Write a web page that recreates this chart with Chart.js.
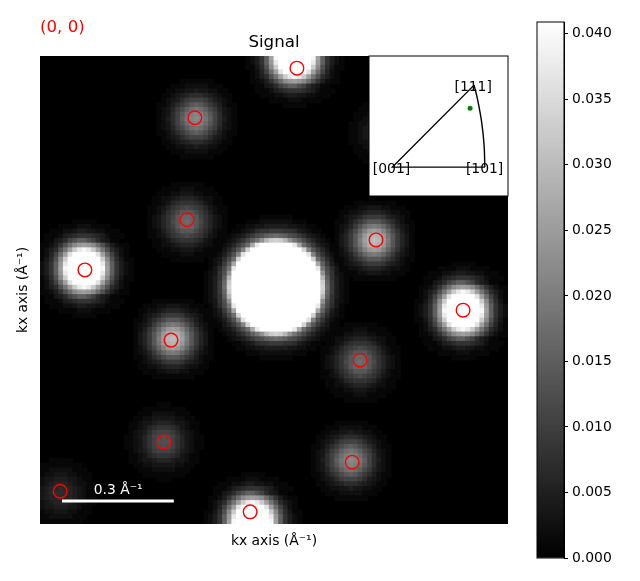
<!DOCTYPE html>
<html>
<head>
<meta charset="utf-8">
<style>
  html, body { margin: 0; padding: 0; background: #fff; }
  canvas { position: absolute; }
</style>
<script src="https://cdn.jsdelivr.net/npm/chart.js@4"></script>
</head>
<body>
<canvas id="signal" width="640" height="581" style="left:0;top:0"></canvas>
<canvas id="ipf" width="141" height="142" style="left:368px;top:55px"></canvas>
<canvas id="colorbar" width="104" height="559" style="left:536px;top:11px"></canvas>
<script>
// brightness, one character per pixel of the 100x100 image
// 0-9 then a-z, so 0 is black and z is white (base 36)
const coreSpot = [
  "0000000000001111111000000000000",
  "0000000001112222222111000000000",
  "0000000112233444443322110000000",
  "0000001123467788877643211000000",
  "00000123468abdefedba86432100000",
  "000012357adgkpstspkgda753210000",
  "00012358bfnwzzzzzzzwnfb85321000",
  "0011358citzzzzzzzzzzztic8531100",
  "001247bivzzzzzzzzzzzzzvib742100",
  "01236aftzzzzzzzzzzzzzzztfa63210",
  "01248dnzzzzzzzzzzzzzzzzznd84210",
  "0136agwzzzzzzzzzzzzzzzzzwga6310",
  "1237bkzzzzzzzzzzzzzzzzzzzkb7321",
  "1247dpzzzzzzzzzzzzzzzzzzzpd7421",
  "1248eszzzzzzzzzzzzzzzzzzzse8421",
  "1248ftzzzzzzzzzzzzzzzzzzztf8421",
  "1248eszzzzzzzzzzzzzzzzzzzse8421",
  "1247dpzzzzzzzzzzzzzzzzzzzpd7421",
  "1237bkzzzzzzzzzzzzzzzzzzzkb7321",
  "0136agwzzzzzzzzzzzzzzzzzwga6310",
  "01248dnzzzzzzzzzzzzzzzzznd84210",
  "01236aftzzzzzzzzzzzzzzztfa63210",
  "001247bivzzzzzzzzzzzzzvib742100",
  "0011358citzzzzzzzzzzztic8531100",
  "00012358bfnwzzzzzzzwnfb85321000",
  "000012357adgkpstspkgda753210000",
  "00000123468abdefedba86432100000",
  "0000001123467788877643211000000",
  "0000000112233444443322110000000",
  "0000000001112222222111000000000",
  "0000000000001111111000000000000"
];
const brightSpot = [
  "000000001111100000000",
  "000001111222111100000",
  "000111223443322111000",
  "001112456777654211100",
  "00113469bddb964311000",
  "011247bfjlmljfb742110",
  "01246bgmswywsmgb64210",
  "01259fmvzzzzzvmf95210",
  "1136bjszzzzzzzsjb6311",
  "1247dlwzzzzzzzwld7421",
  "1247dmyzzzzzzzymd7421",
  "1247dlwzzzzzzzwld7421",
  "1136bjszzzzzzzsjb6311",
  "01259fmvzzzzzvmf95210",
  "01246bgmswywsmgb64210",
  "011247bfjlmljfb742110",
  "00113469bddb964311000",
  "001112456777654211100",
  "000111223443322111000",
  "000001111222111100000",
  "000000001111100000000"
];
const strongSpot = [
  "00001111111110000",
  "00111223332211100",
  "01122345554322110",
  "01234578887543210",
  "112468accca864211",
  "12358beghgeb85321",
  "1247aeilmliea7421",
  "1358cglopolgc8531",
  "1358chmpqpmhc8531",
  "1358cglopolgc8531",
  "1247aeilmliea7421",
  "12358beghgeb85321",
  "112468accca864211",
  "01234578887543210",
  "01122345554322110",
  "00111223332211100",
  "00001111111110000"
];
const midSpot = [
  "00000111111100000",
  "00011122222111000",
  "00112233433221100",
  "01123456665432110",
  "01234689998643210",
  "112468acdca864211",
  "12358adfgfda85321",
  "12369cfhihfc96321",
  "12469dgijigd96421",
  "12369cfhihfc96321",
  "12358adfgfda85321",
  "112468acdca864211",
  "01234689998643210",
  "01123456665432110",
  "00112233433221100",
  "00011122222111000",
  "00000111111100000"
];
const dimSpot = [
  "00000111111100000",
  "00011112221111000",
  "00111223332211100",
  "01122345554322110",
  "01123567776532110",
  "11235789a98753211",
  "112468accca864211",
  "123579ceeec975321",
  "12357acefeca75321",
  "123579ceeec975321",
  "112468accca864211",
  "11235789a98753211",
  "01123567776532110",
  "01122345554322110",
  "00111223332211100",
  "00011112221111000",
  "00000111111100000"
];
const faintSpot = [
  "00000001110000000",
  "00001111111110000",
  "00011122222111000",
  "00112233333221100",
  "01123345554332110",
  "01123567776532110",
  "01234689998643210",
  "1123579aba9753211",
  "1123579bbb9753211",
  "1123579aba9753211",
  "01234689998643210",
  "01123567776532110",
  "01123345554332110",
  "00112233333221100",
  "00011122222111000",
  "00001111111110000",
  "00000001110000000"
];
const traceSpot = [
  "00000000000000000",
  "00000011111000000",
  "00001111111110000",
  "00011122222111000",
  "00111223332211100",
  "00112334443321100",
  "01122345554322110",
  "01123455655432110",
  "01123456665432110",
  "01123455655432110",
  "01122345554322110",
  "00112334443321100",
  "00111223332211100",
  "00011122222111000",
  "00001111111110000",
  "00000011111000000",
  "00000000000000000"
];

const spotShapes = [coreSpot, brightSpot, midSpot, dimSpot, traceSpot, strongSpot, brightSpot, brightSpot, strongSpot, dimSpot, faintSpot, midSpot, brightSpot, traceSpot];
const spotCols = [50, 54, 33, 31, 73, 71, 9, 90, 28, 68, 26, 66, 45, 4];
const spotRows = [49, 0, 13, 35, 16, 39, 45, 54, 60, 65, 82, 86, 99, 93];

const markerCols = [54.9, 33.1, 31.4, 71.8, 9.6, 90.4, 28, 68.4, 26.5, 66.7, 44.9, 4.3];
const markerRows = [2.6, 13.2, 35, 39.3, 45.7, 54.3, 60.7, 65, 82.5, 86.8, 97.4, 93];

const scaleBarCols = [4.7, 28.6];
const scaleBarRow = 95.1;

const ipfSideX = [0.366, 0, 0.4142];
const ipfSideY = [0.366, 0, 0];
const ipfArcX = [0.366, 0.382, 0.4, 0.4107, 0.4142];
const ipfArcY = [0.366, 0.3, 0.2, 0.1, 0];
const ipfPointX = [0.348];
const ipfPointY = [0.263];
const ipfLabels = ['[111]', '[001]', '[101]'];
const ipfLabelX = [0.362, -0.004, 0.413];
const ipfLabelY = [0.357, -0.009, -0.009];

const colorbarTop = 0.0409;
const LEVELS = 35;

Chart.defaults.font.family = '"DejaVu Sans"';
Chart.defaults.color = '#000';
Chart.defaults.animation = false;

const cellPoints = [];
const cellColors = [];
spotShapes.forEach((shape, s) => {
  shape.forEach((text, r) => {
    const row = spotRows[s] + r - (shape.length - 1) / 2;
    [...text].forEach((ch, c) => {
      const col = spotCols[s] + c - (text.length - 1) / 2;
      const level = parseInt(ch, 36);
      if (level === 0 || col < 0 || col > 99 || row < 0 || row > 99) return;
      const gray = Math.round(level / LEVELS * 255);
      cellPoints.push({ x: col + 0.5, y: row + 0.5 });
      cellColors.push(`rgb(${gray},${gray},${gray})`);
    });
  });
});

const signalText = {
  id: 'signalText',
  beforeDatasetsDraw(chart) {
    const { ctx, chartArea: a } = chart;
    ctx.save();
    ctx.fillStyle = '#000';
    ctx.fillRect(a.left, a.top, a.width, a.height);
    ctx.restore();
  },
  afterDraw(chart) {
    const { ctx, chartArea: a, scales } = chart;
    ctx.save();
    ctx.textBaseline = 'middle';
    ctx.fillStyle = '#f00';
    ctx.font = '16.67px "DejaVu Sans"';
    ctx.fillText('(0, 0)', a.left, a.top - 28);
    ctx.fillStyle = '#fff';
    ctx.font = '13.9px "DejaVu Sans"';
    ctx.textAlign = 'center';
    ctx.fillText('0.3 Å⁻¹', scales.x.getPixelForValue(16.7), scales.y.getPixelForValue(92.9));
    ctx.restore();
  }
};

new Chart(document.getElementById('signal'), {
  type: 'scatter',
  plugins: [signalText],
  data: {
    // first dataset is painted last in Chart.js
    datasets: [
      {
        data: markerCols.map((c, i) => ({ x: c, y: markerRows[i] })),
        pointStyle: 'circle',
        pointRadius: 6.8,
        pointBorderWidth: 1.4,
        pointBorderColor: '#f00',
        pointBackgroundColor: 'transparent'
      },
      {
        data: scaleBarCols.map(c => ({ x: c, y: scaleBarRow })),
        showLine: true,
        borderColor: '#fff',
        borderWidth: 3,
        pointRadius: 0
      },
      {
        data: cellPoints,
        pointStyle: 'rect',
        pointRadius: 4,
        pointBorderWidth: 0,
        pointBackgroundColor: cellColors
      }
    ]
  },
  options: {
    responsive: false,
    devicePixelRatio: 1,
    layout: { autoPadding: false, padding: { left: 0, right: 132, top: 28, bottom: 31 } },
    plugins: {
      legend: { display: false },
      tooltip: { enabled: false },
      title: {
        display: true,
        text: 'Signal',
        fullSize: false,
        font: { size: 16.67, weight: 'normal' },
        padding: { top: 5, bottom: 3 }
      }
    },
    scales: {
      x: {
        type: 'linear',
        min: 0,
        max: 100,
        ticks: { display: false },
        grid: { display: false },
        border: { display: false },
        title: { display: true, text: 'kx axis (Å⁻¹)', font: { size: 13.9 }, padding: { top: 8, bottom: 0 } },
        afterFit(scale) { scale.height = 26; }
      },
      y: {
        type: 'linear',
        reverse: true,
        min: 0,
        max: 100,
        ticks: { display: false },
        grid: { display: false },
        border: { display: false },
        title: { display: true, text: 'kx axis (Å⁻¹)', font: { size: 13.9 }, padding: { top: 15, bottom: 0 } },
        afterFit(scale) { scale.width = 40; }
      }
    }
  }
});

const ipfDecor = {
  id: 'ipfDecor',
  beforeDatasetsDraw(chart) {
    const { ctx, chartArea: a } = chart;
    ctx.save();
    ctx.fillStyle = '#fff';
    ctx.fillRect(a.left, a.top, a.width, a.height);
    ctx.restore();
  },
  afterDraw(chart) {
    const { ctx, chartArea: a, scales } = chart;
    ctx.save();
    ctx.strokeStyle = '#000';
    ctx.lineWidth = 1;
    ctx.strokeRect(a.left, a.top, a.width, a.height);
    ctx.fillStyle = '#000';
    ctx.font = '13.9px "DejaVu Sans"';
    ctx.textAlign = 'center';
    ctx.textBaseline = 'middle';
    ipfLabels.forEach((t, i) => {
      ctx.fillText(t, scales.x.getPixelForValue(ipfLabelX[i]), scales.y.getPixelForValue(ipfLabelY[i]));
    });
    ctx.restore();
  }
};

new Chart(document.getElementById('ipf'), {
  type: 'scatter',
  plugins: [ipfDecor],
  data: {
    datasets: [
      {
        data: ipfPointX.map((x, i) => ({ x, y: ipfPointY[i] })),
        pointRadius: 2.5,
        pointBorderWidth: 0,
        pointBackgroundColor: '#008000'
      },
      {
        data: ipfSideX.map((x, i) => ({ x, y: ipfSideY[i] })),
        showLine: true,
        borderColor: '#000',
        borderWidth: 1.4,
        pointRadius: 0
      },
      {
        data: ipfArcX.map((x, i) => ({ x, y: ipfArcY[i] })),
        showLine: true,
        tension: 0.4,
        borderColor: '#000',
        borderWidth: 1.4,
        pointRadius: 0
      }
    ]
  },
  options: {
    responsive: false,
    devicePixelRatio: 1,
    layout: { autoPadding: false, padding: { left: 1, right: 1, top: 1, bottom: 1 } },
    plugins: { legend: { display: false }, tooltip: { enabled: false } },
    scales: {
      x: { type: 'linear', display: false, min: -0.105, max: 0.518 },
      y: { type: 'linear', display: false, min: -0.129, max: 0.496 }
    }
  }
});

const barFrame = {
  id: 'barFrame',
  afterDraw(chart) {
    const { ctx, chartArea: a } = chart;
    ctx.save();
    ctx.strokeStyle = '#000';
    ctx.lineWidth = 1;
    ctx.strokeRect(a.left, a.top, a.width, a.height);
    ctx.restore();
  }
};

new Chart(document.getElementById('colorbar'), {
  type: 'bar',
  plugins: [barFrame],
  data: {
    labels: [''],
    datasets: [{
      data: [colorbarTop],
      barPercentage: 1,
      categoryPercentage: 1,
      backgroundColor(context) {
        const a = context.chart.chartArea;
        if (!a) return '#888';
        const g = context.chart.ctx.createLinearGradient(0, a.bottom, 0, a.top);
        g.addColorStop(0, '#000');
        g.addColorStop(1, '#fff');
        return g;
      }
    }]
  },
  options: {
    responsive: false,
    devicePixelRatio: 1,
    layout: { autoPadding: false, padding: { left: 1, right: 0, top: 11, bottom: 12 } },
    plugins: { legend: { display: false }, tooltip: { enabled: false } },
    scales: {
      x: { display: false },
      y: {
        position: 'right',
        min: 0,
        max: colorbarTop,
        ticks: {
          stepSize: 0.005,
          includeBounds: false,
          padding: 4,
          font: { size: 13.9 },
          color: '#000',
          callback: v => v.toFixed(3)
        },
        grid: { drawOnChartArea: false, tickLength: 4, color: '#000' },
        border: { color: '#000' },
        afterFit(scale) {
          scale.width = 76;
          scale.paddingTop = 0;
          scale.paddingBottom = 0;
        }
      }
    }
  }
});
</script>
</body>
</html>
